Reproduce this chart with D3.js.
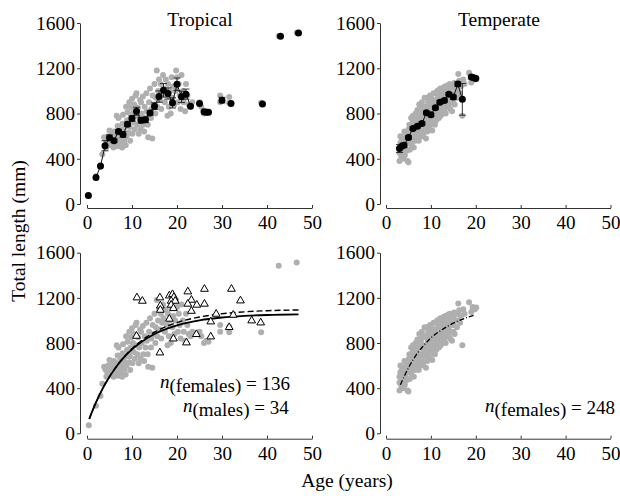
<!DOCTYPE html>
<html lang="en">
<head>
<meta charset="utf-8" />
<script src="https://cdn.jsdelivr.net/npm/d3@7"></script>
<style>
  body { margin: 0; background: #fff; }
  text { font-family: "Liberation Serif", "Times New Roman", serif; fill: #000; }
  .domain, .tick line { stroke: #333; stroke-width: 1; }
  .label { font-size: 19.5px; }
  .note { font-size: 19px; }
</style>
</head>
<body>
<script>
// ---- tropical: individual females [age, length mm]
var tropFemales = [
  [0.4,72],[2,245],[3,330],[3.4,440],
  [3.8,590],[4.1,565],[4.3,500],[4.5,540],[4.7,600],
  [5,650],[5.1,570],[5.3,520],[5.5,610],[5.6,555],[5.9,500],
  [6,640],[6.2,590],[6.4,540],[6.6,780],[6.8,690],[6.9,510],[6.7,620],
  [7,760],[7.2,570],[7.4,660],[7.5,530],[7.7,600],[7.9,710],[7.8,500],
  [8,790],[8.2,640],[8.3,560],[8.5,680],[8.7,860],[8.8,600],[8.9,740],[8.6,520],
  [9,810],[9.2,700],[9.3,630],[9.4,900],[9.6,560],[9.7,760],[9.8,850],[9.5,680],
  [10,930],[10.1,620],[10.2,800],[10.4,720],[10.5,880],[10.6,660],[10.8,960],[10.9,780],
  [11,980],[11.2,700],[11.3,850],[11.5,620],[11.6,760],[11.8,920],[11.9,660],
  [12,900],[12.2,800],[12.4,950],[12.5,700],[12.7,640],[12.8,860],
  [13,760],[13.2,980],[13.3,820],[13.5,700],[13.6,590],[13.8,900],
  [14,1020],[14.2,760],[14.3,840],[14.5,580],[14.6,960],[14.8,880],
  [15,1060],[15.2,800],[15.3,940],[15.5,1180],[15.6,860],[15.8,1000],
  [16,1100],[16.2,920],[16.4,1060],[16.5,840],[16.7,980],[16.9,1140],
  [17,1020],[17.3,900],[17.5,1100],[17.7,960],[17.9,780],
  [18,1060],[18.2,860],[18.4,1000],[18.6,800],[18.8,1120],
  [19,940],[19.2,1040],[19.4,880],[19.6,1000],[19.8,1180],
  [20,1120],[20.2,900],[20.4,1060],[20.6,960],[20.8,840],
  [21,1140],[21.3,1000],[21.5,900],[21.8,820],
  [22,1060],[22.3,960],[22.6,880],
  [23,860],[23.4,900],
  [25,900],[25.4,860],
  [26,800],[26.5,820],[27,810],
  [29.6,960],[29.6,900],[31.6,945],[31.6,895],
  [38.7,895],[42.6,1485],[46.6,1514]
];

// tropical: males (open triangles, bottom panel)
var tropMales = [
  [11.1,1202],[12.3,1172],[11.0,862],[16.2,1202],[16.3,1130],[16.3,1092],
  [16.2,714],[18.3,1219],[19.0,1231],[19.3,1205],[18.7,1172],[19.6,1172],
  [18.7,1137],[19.2,1107],[18.3,1013],[19.2,838],[22.4,1255],[23.2,1181],
  [22.4,1146],[24.4,1137],[23.2,1083],[22.1,803],[24.3,877],[26.1,1278],
  [26.1,1146],[27.5,989],[27.5,856],[28.7,1057],[32.1,1278],[34.1,1175],
  [32.5,1048],[31.6,939],[36.6,998],[38.6,980]
];

// tropical: mean length at age, with error
var tropAges  = [0.3, 2, 3, 4, 5, 6, 7, 8, 9, 10, 11, 12, 13, 14, 15, 16, 17, 18, 19, 20, 21, 22, 23, 25, 26, 26.5, 27, 30, 32, 39, 43, 47];
var tropMeans = [75, 235, 335, 515, 585, 560, 640, 615, 705, 756, 820, 740, 745, 805, 865, 950, 1005, 977, 894, 1059, 947, 971, 865, 889, 815, 812, 812, 918, 889, 883, 1483, 1512];
var tropErr   = [0, 0, 0, 45, 25, 15, 20, 25, 20, 25, 35, 25, 25, 20, 30, 50, 60, 50, 45, 55, 50, 45, 0, 0, 0, 0, 0, 25, 0, 0, 0, 0];

// tropical growth curves
var curveFemaleAge = [0.5, 1, 2, 3, 4, 5, 6, 8, 10, 12, 15, 20, 25, 30, 35, 40, 47];
var curveFemaleLen = [128, 179, 274, 359, 434, 501, 561, 663, 743, 807, 880, 957, 1001, 1026, 1040, 1048, 1053];
var curveMaleLen   = [127, 178, 272, 357, 433, 501, 562, 666, 750, 818, 896, 981, 1030, 1059, 1076, 1086, 1093];

// ---- temperate: individual females
var tempFemales = [
  [3,380],[3,450],[3,500],[3.2,540],[3.2,600],[3.4,420],[3.4,470],[3.5,560],
  [3.8,400],[3.9,520],[4,460],[4,580],[4.1,640],[4.2,430],[4.3,500],[4.4,560],[4.5,620],[4.6,470],
  [4.8,380],[5,370],[5,540],[5,600],[5.1,660],[5.2,700],[5.3,480],[5.4,580],[5.5,640],[5.6,760],[5.7,520],[5.8,690],
  [6,560],[6,620],[6,720],[6,780],[6.2,500],[6.2,660],[6.3,600],[6.4,740],[6.5,560],[6.6,800],[6.7,680],[6.8,620],[6.9,720],
  [7,600],[7,650],[7,770],[7,830],[7.2,700],[7.3,560],[7.4,880],[7.5,640],[7.6,760],[7.7,690],[7.8,800],[7.9,600],
  [8,640],[8,700],[8,840],[8,900],[8.2,760],[8.3,620],[8.4,720],[8.5,860],[8.6,940],[8.7,680],[8.8,780],[8.9,580],
  [9,700],[9,760],[9,860],[9.1,940],[9.2,640],[9.3,820],[9.4,900],[9.5,720],[9.6,660],[9.7,780],[9.8,960],[9.9,840],
  [10,700],[10,760],[10,880],[10.1,940],[10.2,820],[10.3,650],[10.4,900],[10.5,740],[10.6,980],[10.7,800],[10.8,860],[10.9,700],
  [11,780],[11,840],[11,920],[11.1,980],[11.2,740],[11.3,880],[11.4,1000],[11.5,800],[11.6,940],[11.7,860],[11.8,760],[11.9,1010],
  [12,820],[12,880],[12,960],[12.1,1020],[12.2,780],[12.3,920],[12.4,860],[12.5,990],[12.6,800],[12.7,940],[12.8,1030],[12.9,880],
  [13,840],[13,900],[13,960],[13.2,1040],[13.3,800],[13.4,980],[13.5,880],[13.6,1000],[13.7,920],[13.8,1050],[13.9,860],
  [14,880],[14,940],[14,1010],[14.2,1060],[14.3,840],[14.4,980],[14.5,900],[14.6,1040],[14.7,820],[14.8,960],
  [15,900],[15,960],[15,1030],[15.2,1070],[15.3,880],[15.5,1000],[15.6,1060],[15.8,940],
  [16,1000],[16,1060],[16.1,1150],[16.3,1090],[16.5,980],[16.7,1040],
  [17,780],[17.2,1100],[17.5,1060],
  [18.5,1160],[19,1075],[19.3,1120],[19.8,1100],[20.1,1115]
];

var tempAges  = [3, 3.5, 4, 5, 6, 7, 8, 9, 10, 11, 12, 13, 14, 15, 16, 17, 19, 19.5, 20];
var tempMeans = [490, 510, 520, 588, 668, 688, 712, 806, 790, 850, 900, 915, 970, 945, 1060, 925, 1122, 1115, 1110];
var tempErr   = [35, 0, 20, 15, 15, 15, 15, 15, 15, 15, 15, 15, 15, 20, 20, 140, 15, 0, 0];

var curveTempAge = [3.2, 4, 5, 6, 7, 8, 10, 12, 14, 16, 18, 19.5];
var curveTempLen = [430, 500, 580, 650, 710, 760, 845, 905, 955, 995, 1025, 1045];

var xTicks = [0, 10, 20, 30, 40, 50];
var yTicks = [0, 400, 800, 1200, 1600];

var width = 620, height = 496;
var grey = "#afafaf";
var serif = "'Liberation Serif', 'Times New Roman', serif";

var svg = d3.select("body").append("svg")
    .attr("width", width)
    .attr("height", height);

// panel geometry: plot left/right, top/bottom
var cols = [{ yAxisX: 80, x0: 87, x1: 312 }, { yAxisX: 380, x0: 386, x1: 610.5 }];
var rows = [{ top: 23, bottom: 204, xAxisY: 208 }, { top: 252.7, bottom: 433.3, xAxisY: 438.7 }];

function makePanel(c, r) {
    var col = cols[c], row = rows[r];
    var x = d3.scaleLinear().domain([0, 50]).range([col.x0, col.x1]);
    var y = d3.scaleLinear().domain([0, 1600]).range([row.bottom, row.top]);

    svg.append("g")
        .attr("transform", "translate(" + col.yAxisX + ",0)")
        .call(d3.axisLeft(y).tickValues(yTicks).tickFormat(d3.format("d"))
            .tickSize(3).tickSizeOuter(0).tickPadding(2))
        .attr("font-family", serif).attr("font-size", 19.5);

    svg.append("g")
        .attr("transform", "translate(0," + row.xAxisY + ")")
        .call(d3.axisBottom(x).tickValues(xTicks).tickFormat(d3.format("d"))
            .tickSizeInner(-3).tickSizeOuter(0).tickPadding(8))
        .attr("font-family", serif).attr("font-size", 19)
        .selectAll(".tick text").attr("dy", "0.71em");

    return { x: x, y: y, g: svg.append("g") };
}

function dots(p, data, r, fill) {
    p.g.selectAll(null).data(data).enter().append("circle")
        .attr("cx", function (d) { return p.x(d[0]); })
        .attr("cy", function (d) { return p.y(d[1]); })
        .attr("r", r)
        .attr("fill", fill);
}

function means(p, ages, vals, errs, lineStart, lineEnd) {
    var pts = ages.map(function (a, i) { return [a, vals[i], errs[i]]; });
    var line = d3.line().x(function (d) { return p.x(d[0]); }).y(function (d) { return p.y(d[1]); });
    p.g.append("path")
        .attr("d", line(pts.slice(lineStart, lineEnd)))
        .attr("fill", "none").attr("stroke", "#111").attr("stroke-width", 1);

    var eb = p.g.selectAll(null).data(pts.filter(function (d) { return d[2] > 0; })).enter().append("g")
        .attr("stroke", "#222").attr("stroke-width", 0.9);
    eb.append("line")
        .attr("x1", function (d) { return p.x(d[0]); }).attr("x2", function (d) { return p.x(d[0]); })
        .attr("y1", function (d) { return p.y(d[1] - d[2]); }).attr("y2", function (d) { return p.y(d[1] + d[2]); });
    [-1, 1].forEach(function (s) {
        eb.append("line")
            .attr("x1", function (d) { return p.x(d[0]) - 3.5; }).attr("x2", function (d) { return p.x(d[0]) + 3.5; })
            .attr("y1", function (d) { return p.y(d[1] + s * d[2]); }).attr("y2", function (d) { return p.y(d[1] + s * d[2]); });
    });

    dots(p, pts, 3.5, "#000");
}

function curve(p, ages, lens, dash, w) {
    var line = d3.line().curve(d3.curveMonotoneX)
        .x(function (d) { return p.x(d[0]); }).y(function (d) { return p.y(d[1]); });
    p.g.append("path")
        .attr("d", line(ages.map(function (a, i) { return [a, lens[i]]; })))
        .attr("fill", "none").attr("stroke", "#000").attr("stroke-width", w)
        .attr("stroke-dasharray", dash);
}

// top left: tropical
var tl = makePanel(0, 0);
dots(tl, tropFemales, 3, grey);
means(tl, tropAges, tropMeans, tropErr, 1, 23);

// top right: temperate
var tr = makePanel(1, 0);
dots(tr, tempFemales, 3, grey);
means(tr, tempAges, tempMeans, tempErr, 0, 16);

// bottom left: tropical fits
var bl = makePanel(0, 1);
dots(bl, tropFemales, 3, grey);
curve(bl, curveFemaleAge, curveMaleLen, "6,3", 1.4);
curve(bl, curveFemaleAge, curveFemaleLen, null, 1.8);
bl.g.selectAll(null).data(tropMales).enter().append("path")
    .attr("transform", function (d) { return "translate(" + bl.x(d[0]) + "," + bl.y(d[1]) + ")"; })
    .attr("d", d3.symbol().type(d3.symbolTriangle).size(26))
    .attr("fill", "#fff").attr("stroke", "#000").attr("stroke-width", 1);

// bottom right: temperate fit
var br = makePanel(1, 1);
dots(br, tempFemales, 3, grey);
curve(br, curveTempAge, curveTempLen, "5,2,1,2", 1.3);

// titles and axis labels
svg.append("text").attr("class", "label").attr("x", 200).attr("y", 26).attr("text-anchor", "middle").text("Tropical");
svg.append("text").attr("class", "label").attr("x", 499).attr("y", 26).attr("text-anchor", "middle").text("Temperate");
svg.append("text").attr("class", "label").attr("text-anchor", "middle")
    .attr("transform", "translate(25,231) rotate(-90)").text("Total length (mm)");
svg.append("text").attr("class", "label").attr("x", 347).attr("y", 487).attr("text-anchor", "middle").text("Age (years)");

// sample size notes
function note(x, y, group, count) {
    var t = svg.append("text").attr("class", "note").attr("x", x).attr("y", y);
    t.append("tspan").attr("font-style", "italic").text("n");
    t.append("tspan").attr("dy", 4).text("(" + group + ")");
    t.append("tspan").attr("dy", -2).text(" = " + count);
}
note(160, 388, "females", 136);
note(183, 412, "males", 34);
note(485, 412, "females", 248);
</script>
</body>
</html>
